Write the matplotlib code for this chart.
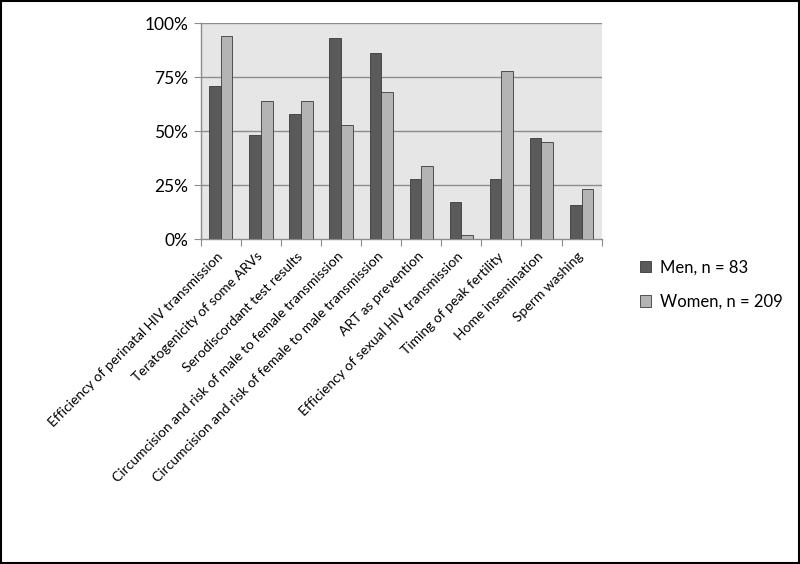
import matplotlib
matplotlib.use("Agg")
import matplotlib.pyplot as plt
import numpy as np
from matplotlib.patches import Rectangle

categories = [
    "Efficiency of perinatal HIV transmission",
    "Teratogenicity of some ARVs",
    "Serodiscordant test results",
    "Circumcision and risk of male to female transmission",
    "Circumcision and risk of female to male transmission",
    "ART as prevention",
    "Efficiency of sexual HIV transmission",
    "Timing of peak fertility",
    "Home insemination",
    "Sperm washing",
]
men = [71, 48, 58, 93, 86, 28, 17, 28, 47, 16]
women = [94, 64, 64, 53, 68, 34, 2, 78, 45, 23]
series_labels = ["Men, n = 83", "Women, n = 209"]
yticks = [0, 25, 50, 75, 100]
ytick_labels = ["0%", "25%", "50%", "75%", "100%"]

plt.rcParams['font.family'] = ['Lato', 'DejaVu Sans']

fig = plt.figure(figsize=(8, 5.64), dpi=100)
fig.patch.set_facecolor('white')
fig.add_artist(Rectangle((0.001, 0.001), 0.998, 0.998, transform=fig.transFigure,
                         fill=False, edgecolor='black', linewidth=1.5))

ax = fig.add_axes([0.251, 0.576, 0.501, 0.383])
ax.set_facecolor('#e6e6e6')

x = np.arange(len(categories)) + 0.5
w = 0.29
ax.bar(x - w/2, men, width=w, color='#5a5a5a', edgecolor='#3a3a3a', linewidth=0.6,
       label=series_labels[0], zorder=3)
ax.bar(x + w/2, women, width=w, color='#b4b4b4', edgecolor='#3a3a3a', linewidth=0.6,
       label=series_labels[1], zorder=3)

ax.set_xlim(0, len(categories))
ax.set_ylim(0, 100)
ax.set_yticks(yticks)
ax.set_yticklabels(ytick_labels, fontsize=12.5)
for yv in yticks[1:]:
    ax.axhline(yv, color='#8c8c8c', linewidth=1.0, zorder=1)

ax.set_xticks(np.arange(len(categories) + 1))
ax.set_xticklabels([])
ax.set_xticks(x, minor=True)
ax.set_xticklabels(categories, minor=True, rotation=45, ha='right', va='center',
                   rotation_mode='anchor', fontsize=10.0)
ax.tick_params(axis='x', which='minor', length=0, pad=11)
ax.tick_params(axis='x', which='major', length=5, color='#8c8c8c', direction='out')
ax.tick_params(axis='y', length=5, color='#8c8c8c', direction='out', pad=4)

for s in ['top', 'right']:
    ax.spines[s].set_visible(False)
for s in ['left', 'bottom']:
    ax.spines[s].set_color('#8c8c8c')
    ax.spines[s].set_linewidth(1.0)

leg = ax.legend(loc='upper left', bbox_to_anchor=(0.781, 0.567), bbox_transform=fig.transFigure,
                frameon=False, fontsize=12, handlelength=0.7, handleheight=0.7,
                labelspacing=1.1, handletextpad=0.5)

fig.savefig("out.png", dpi=100, facecolor=fig.get_facecolor())
